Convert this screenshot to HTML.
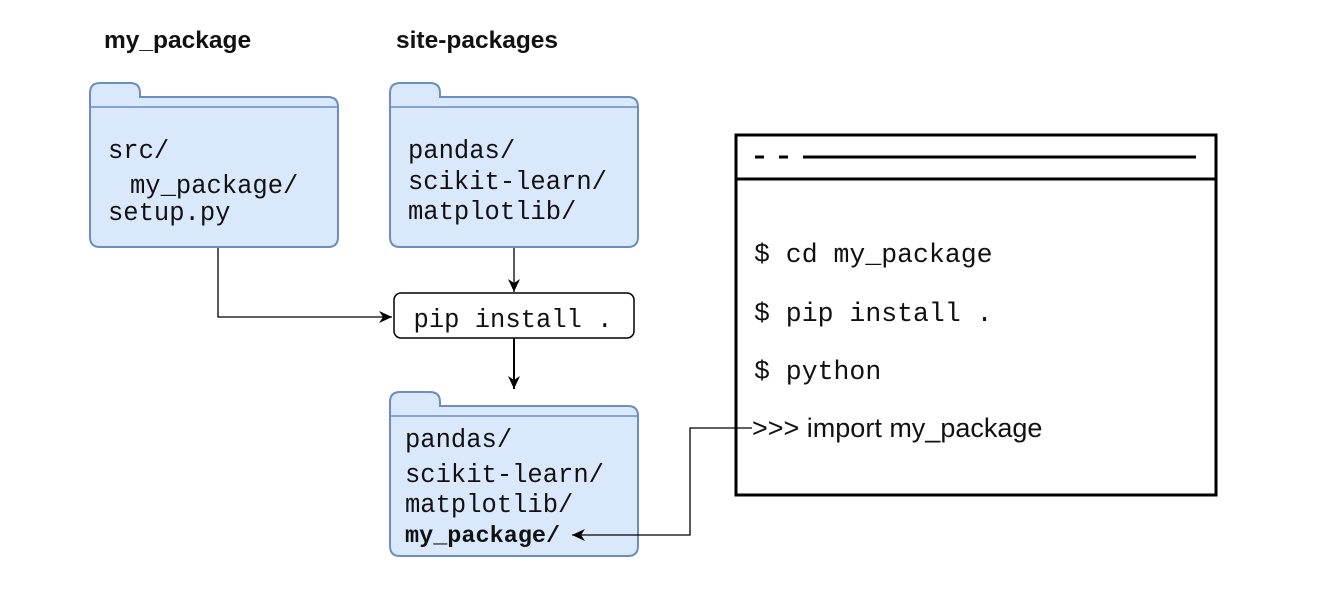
<!DOCTYPE html>
<html><head><style>
body{margin:0;background:#fff}
svg text.m{font-family:"Liberation Mono",monospace;font-size:25.5px;fill:#111}
svg text.s{font-family:"Liberation Sans",sans-serif;fill:#111}
</style></head><body>
<svg width="1322" height="587" viewBox="0 0 1322 587" xmlns="http://www.w3.org/2000/svg">
<defs>
<marker id="a" markerWidth="14" markerHeight="14" refX="13" refY="7" orient="auto" markerUnits="userSpaceOnUse"><path d="M0,1 L13,7 L0,13 L4,7 Z" fill="#000"/></marker>
<g id="folder">
<path d="M0,97 L0,10 Q0,0 10,0 L40,0 Q50,0 50,10 L50,14 L238,14 Q248,14 248,24 L248,154 Q248,164 238,164 L10,164 Q0,164 0,154 Z" fill="#dae8fc" stroke="#6c8ebf" stroke-width="2"/>
<line x1="1" y1="24" x2="247" y2="24" stroke="#6c8ebf" stroke-width="1.5"/>
</g>
</defs>
<text class="s" x="104" y="48" font-size="24.5" font-weight="bold">my_package</text>
<text class="s" x="396" y="48" font-size="24.5" font-weight="bold">site-packages</text>

<use href="#folder" x="90" y="83"/>
<use href="#folder" x="390" y="83"/>
<use href="#folder" x="390" y="392"/>

<text class="m" x="108" y="158">src/</text>
<text class="m" x="130" y="193">my_package/</text>
<text class="m" x="108" y="220">setup.py</text>

<text class="m" x="408" y="158">pandas/</text>
<text class="m" x="408" y="189">scikit-learn/</text>
<text class="m" x="408" y="219">matplotlib/</text>

<text class="m" x="405" y="447">pandas/</text>
<text class="m" x="405" y="482">scikit-learn/</text>
<text class="m" x="405" y="512">matplotlib/</text>
<text class="m" x="405" y="542" style="font-weight:bold;font-size:23.5px">my_package/</text>

<rect x="394" y="293" width="240" height="45" rx="7" fill="#fff" stroke="#000" stroke-width="1.5"/>
<text class="m" x="513" y="327" text-anchor="middle">pip install .</text>

<path d="M218,248 L218,317 L392,317" fill="none" stroke="#000" stroke-width="1.3" marker-end="url(#a)"/>
<path d="M514,248 L514,292" fill="none" stroke="#000" stroke-width="1.3" marker-end="url(#a)"/>
<path d="M514,338 L514,389" fill="none" stroke="#000" stroke-width="2" marker-end="url(#a)"/>
<path d="M752,428 L690,428 L690,535 L572,535" fill="none" stroke="#000" stroke-width="1.3" marker-end="url(#a)"/>

<rect x="736" y="135" width="480" height="360" fill="none" stroke="#000" stroke-width="3"/>
<line x1="736" y1="179" x2="1216" y2="179" stroke="#000" stroke-width="3"/>
<line x1="755" y1="157" x2="764" y2="157" stroke="#000" stroke-width="3"/>
<line x1="779" y1="157" x2="788" y2="157" stroke="#000" stroke-width="3"/>
<line x1="803" y1="157" x2="1196" y2="157" stroke="#000" stroke-width="3"/>

<text class="m" x="754" y="262" style="font-size:26.5px">$ cd my_package</text>
<text class="m" x="754" y="321" style="font-size:26.5px">$ pip install .</text>
<text class="m" x="754" y="379" style="font-size:26.5px">$ python</text>
<text class="s" x="752" y="437" font-size="27">&gt;&gt;&gt; import my_package</text>
</svg>
</body></html>
